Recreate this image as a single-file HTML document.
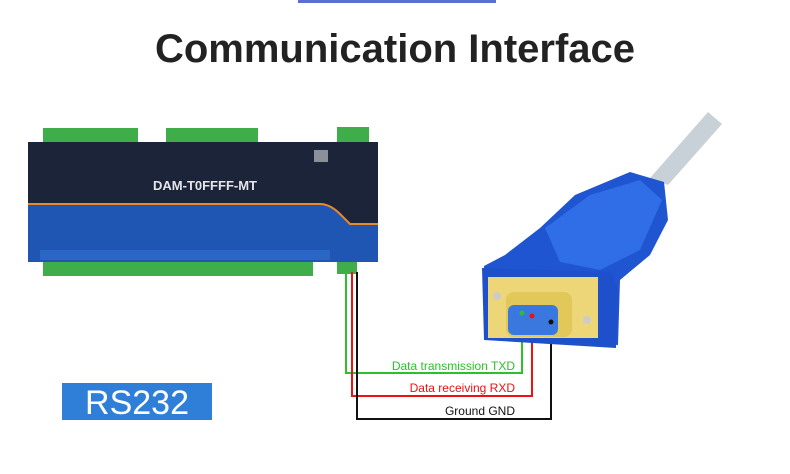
<!DOCTYPE html>
<html><head><style>
body{margin:0;width:790px;height:469px;background:#fff;overflow:hidden;font-family:"Liberation Sans",sans-serif}
</style></head><body>
<svg width="790" height="469" viewBox="0 0 790 469" xmlns="http://www.w3.org/2000/svg">
<rect x="298" y="0" width="198" height="3" fill="#5a6fd0"/>
<text x="395" y="62" text-anchor="middle" font-family="Liberation Sans,sans-serif" font-weight="bold" font-size="40" fill="#222">Communication Interface</text>
<!-- device -->
<rect x="43" y="128" width="95" height="15" fill="#3fae4a"/>
<rect x="166" y="128" width="92" height="15" fill="#3fae4a"/>
<rect x="337" y="127" width="32" height="16" fill="#3fae4a"/>
<rect x="43" y="262" width="270" height="14" fill="#3fae4a"/>
<rect x="337" y="262" width="20" height="12" fill="#3fae4a"/>
<rect x="28" y="142" width="350" height="120" fill="#1b2438"/>
<path d="M28 204 L320 204 Q330 204 340 214 L350 224 L378 224 L378 262 L28 262Z" fill="#1f56b4"/>
<path d="M28 204 L320 204 Q330 204 340 214 L350 224 L378 224" stroke="#e8892a" stroke-width="2" fill="none"/>
<rect x="40" y="250" width="290" height="10" fill="#2a66c6"/>
<text x="205" y="190" text-anchor="middle" font-size="13" font-weight="bold" fill="#e6e6ea">DAM-T0FFFF-MT</text>
<rect x="314" y="150" width="14" height="12" fill="#8a8f99"/>
<!-- wires -->
<polyline points="346,272 346,373 522,373 522,316" fill="none" stroke="#2cc02c" stroke-width="2"/>
<polyline points="352,272 352,396 532,396 532,318" fill="none" stroke="#ee1111" stroke-width="2"/>
<polyline points="357,272 357,419 551,419 551,322" fill="none" stroke="#111" stroke-width="2"/>
<!-- cable -->
<path d="M650 178 L708 112 L722 124 L668 185Z" fill="#c9d1d8"/>
<!-- connector -->
<path d="M484 266 L505 255 L540 228 L575 195 L630 172 L664 182 L668 220 L650 255 L620 280 L618 345 L484 338Z" fill="#1f55d0"/>
<path d="M545 228 L590 195 L640 180 L662 200 L640 250 L600 270 L560 262Z" fill="#2f6ee6"/>
<path d="M482 268 L612 272 L618 290 L616 348 L484 340Z" fill="#1e50cc"/>
<rect x="488" y="277" width="110" height="61" fill="#ecd677"/>
<rect x="506" y="292" width="66" height="45" rx="8" fill="#e2c85a"/>
<rect x="508" y="305" width="50" height="30" rx="6" fill="#3a78e0"/>
<circle cx="497" cy="296" r="4" fill="#ccc"/>
<circle cx="587" cy="320" r="4" fill="#ccc"/>
<circle cx="522" cy="313" r="2.5" fill="#2cc02c"/>
<circle cx="532" cy="316" r="2.5" fill="#ee1111"/>
<circle cx="551" cy="322" r="2.5" fill="#111"/>
<text x="515" y="370" text-anchor="end" font-size="12" fill="#2cc02c">Data transmission TXD</text>
<text x="515" y="392" text-anchor="end" font-size="12" fill="#ee1111">Data receiving RXD</text>
<text x="515" y="415" text-anchor="end" font-size="12" fill="#111">Ground GND</text>
<rect x="62" y="383" width="150" height="37" fill="#2f7fd8"/>
<text x="137" y="414" text-anchor="middle" font-size="34" fill="#fff">RS232</text>
</svg>
</body></html>
